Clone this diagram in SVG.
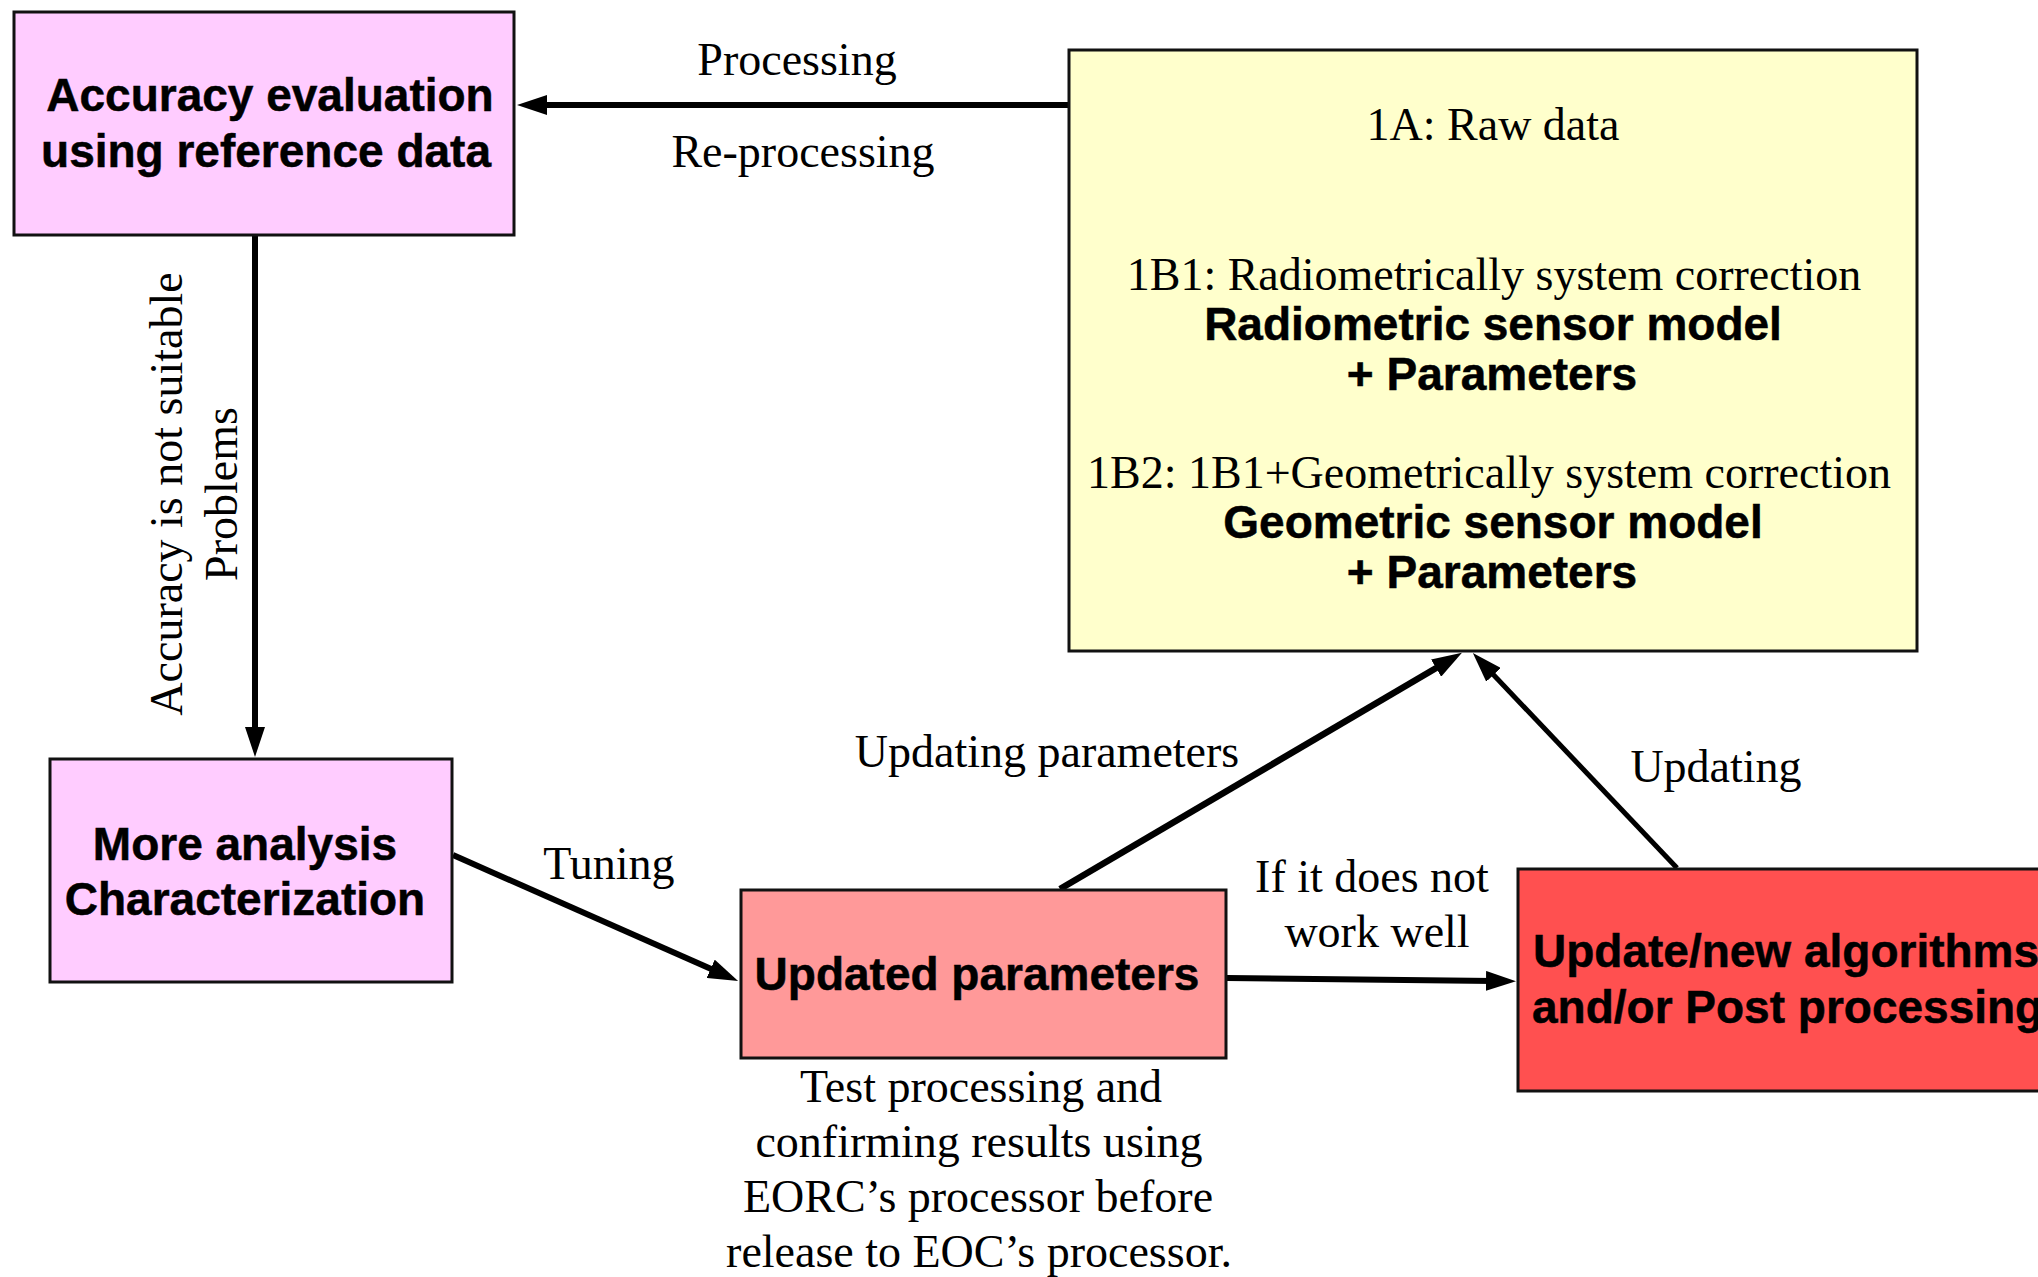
<svg xmlns="http://www.w3.org/2000/svg" width="2038" height="1277" viewBox="0 0 2038 1277">
<style>
.box{stroke:#111;stroke-width:3}
.b{font-family:"Liberation Sans",Arial,sans-serif;font-weight:bold;font-size:46px;fill:#000;stroke:#000;stroke-width:0.5}
.s{font-family:"Liberation Serif","Times New Roman",serif;font-size:46px;fill:#000}
.c{text-anchor:middle}
.ln{stroke:#000;fill:none}
</style>
<defs>
<marker id="ah" viewBox="0 0 30 20" markerWidth="30" markerHeight="20" markerUnits="userSpaceOnUse" refX="8" refY="10" orient="auto">
<path d="M0,0 L30,10 L0,20 z" fill="#000"/>
</marker>
</defs>
<rect width="2038" height="1277" fill="#fff"/>
<g id="connectors">
<line class="ln" x1="1068" y1="105" x2="539" y2="105" stroke-width="6" marker-end="url(#ah)"/>
<line class="ln" x1="255" y1="236" x2="255" y2="735" stroke-width="6" marker-end="url(#ah)"/>
<line class="ln" x1="453" y1="855" x2="718" y2="972" stroke-width="6" marker-end="url(#ah)"/>
<line class="ln" x1="1060" y1="889" x2="1443" y2="664" stroke-width="6.5" marker-end="url(#ah)"/>
<line class="ln" x1="1227" y1="978" x2="1494" y2="981" stroke-width="6" marker-end="url(#ah)"/>
<line class="ln" x1="1677" y1="868" x2="1488" y2="669" stroke-width="5" marker-end="url(#ah)"/>
<text class="s c" x="797" y="75">Processing</text>
<text class="s c" x="803" y="167">Re-processing</text>
<text class="s c" transform="translate(182,494) rotate(-90)">Accuracy is not suitable</text>
<text class="s c" transform="translate(237,494) rotate(-90)">Problems</text>
<text class="s c" x="609" y="879">Tuning</text>
<text class="s c" x="1047" y="767">Updating parameters</text>
<text class="s c" x="1372" y="892">If it does not</text>
<text class="s c" x="1377" y="947">work well</text>
<text class="s c" x="1716" y="782">Updating</text>
</g>
<g id="accuracy-evaluation">
<rect class="box" x="14" y="12" width="500" height="223" fill="#FFCCFF"/>
<text class="b c" x="270" y="111">Accuracy evaluation</text>
<text class="b c" x="266" y="167">using reference data</text>
</g>
<g id="more-analysis">
<rect class="box" x="50" y="759" width="402" height="223" fill="#FFCCFF"/>
<text class="b c" x="245" y="860">More analysis</text>
<text class="b c" x="245" y="915">Characterization</text>
</g>
<g id="data-levels">
<rect class="box" x="1069" y="50" width="848" height="601" fill="#FFFFCC"/>
<text class="s c" x="1493" y="140">1A: Raw data</text>
<text class="s c" x="1494" y="290">1B1: Radiometrically system correction</text>
<text class="b c" x="1493" y="340">Radiometric sensor model</text>
<text class="b c" x="1492" y="390">+ Parameters</text>
<text class="s c" x="1489" y="488">1B2: 1B1+Geometrically system correction</text>
<text class="b c" x="1493" y="538">Geometric sensor model</text>
<text class="b c" x="1492" y="588">+ Parameters</text>
</g>
<g id="updated-parameters">
<rect class="box" x="741" y="890" width="485" height="168" fill="#FF9999"/>
<text class="b c" x="977" y="990">Updated parameters</text>
<text class="s c" x="981" y="1102">Test processing and</text>
<text class="s c" x="979" y="1157">confirming results using</text>
<text class="s c" x="978" y="1212">EORC’s processor before</text>
<text class="s c" x="979" y="1267">release to EOC’s processor.</text>
</g>
<g id="update-algorithms">
<rect class="box" x="1518" y="869" width="540" height="222" fill="#FF5050"/>
<text class="b" x="1533" y="967">Update/new algorithms</text>
<text class="b" x="1532" y="1023">and/or Post processing</text>
</g>
</svg>
